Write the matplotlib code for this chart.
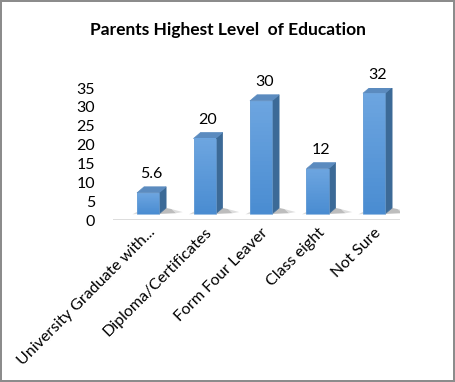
import matplotlib
matplotlib.use("Agg")
import matplotlib.pyplot as plt
from matplotlib.patches import Polygon, Rectangle

plt.rcParams['font.family'] = ['Lato', 'DejaVu Sans']

categories = ["University Graduate with...", "Diploma/Certificates",
              "Form Four Leaver", "Class eight", "Not Sure"]
values = [5.6, 20, 30, 12, 32]
labels = ["5.6", "20", "30", "12", "32"]
yticks = [0, 5, 10, 15, 20, 25, 30, 35]

# fake 3d look (data units)
w = 0.39      # front face width
dx = 0.125    # depth to the right
dy = 1.6      # depth upward
lift = 1.6    # front face sits a little above the floor line

side_c = '#3c6a97'
top_c = '#5b8bbf'

fig = plt.figure(figsize=(4.55, 3.82), dpi=100)
fig.patch.set_edgecolor('#8c8c8c')
fig.patch.set_linewidth(1.5)
ax = fig.add_axes([113/455, 1-220/382, 287/455, 132/382])
ax.set_xlim(-0.62, 4.46)
ax.set_ylim(0, 35)

for i, v in enumerate(values):
    x0, x1 = i - w/2, i + w/2
    b, t = lift, lift + v
    # floor shadow
    ax.add_patch(Polygon([(x1, b), (x1 + 0.3, b + 0.2), (x1 + 0.22, b + 1.3), (x1 + dx, b + dy)],
                         closed=True, color='#6e6e6e', alpha=0.45, lw=0, zorder=1))
    ax.add_patch(Polygon([(x1 + 0.3, b + 0.2), (x1 + 0.42, b + 0.5), (x1 + 0.22, b + 1.3)],
                         closed=True, color='#a0a0a0', alpha=0.35, lw=0, zorder=1))
    ax.add_patch(Polygon([(x0 - 0.08, b - 0.1), (x0, b), (x0 + dx, b + dy)],
                         closed=True, color='#a8a8a8', alpha=0.4, lw=0, zorder=1))
    # side
    ax.add_patch(Polygon([(x1, b), (x1 + dx, b + dy), (x1 + dx, t + dy), (x1, t)],
                         closed=True, facecolor=side_c, edgecolor=side_c, lw=0.5, zorder=2))
    # top
    ax.add_patch(Polygon([(x0, t), (x1, t), (x1 + dx, t + dy), (x0 + dx, t + dy)],
                         closed=True, facecolor=top_c, edgecolor=top_c, lw=0.5, zorder=2))
    # front with slight gradient
    n = 30
    for k in range(n):
        f = k / n
        c = (0.29 + 0.14 * f, 0.55 + 0.10 * f, 0.82 + 0.06 * f)
        ax.add_patch(Rectangle((x0, b + v * f), w, v / n + 0.02, facecolor=c,
                               edgecolor='none', zorder=3))
    ax.add_patch(Rectangle((x0, b), w, v, fill=False, edgecolor='#6fa3d8', lw=0.5, zorder=4))
    ax.annotate(labels[i], (i + dx / 2, t + dy), xytext=(0, 4), textcoords='offset points',
                ha='center', va='bottom', fontsize=11.5, color='#000000',
                annotation_clip=False)

ax.axhline(0, color='#d9d9d9', lw=2, zorder=0)

for s in ax.spines.values():
    s.set_visible(False)
ax.set_yticks(yticks)
ax.set_yticklabels([str(t) for t in yticks], fontsize=11.5)
ax.tick_params(axis='y', length=0, pad=13)
ax.set_xticks(range(len(categories)))
ax.set_xticklabels(categories, rotation=45, ha='right', va='top',
                   rotation_mode='anchor', fontsize=11.5)
ax.tick_params(axis='x', length=0, pad=4)

fig.text(228/455, 1 - 30/382, "Parents Highest Level  of Education", ha='center', va='center',
         fontsize=12.5, fontweight='bold')

fig.savefig("out.png", dpi=100, edgecolor=fig.get_edgecolor())
